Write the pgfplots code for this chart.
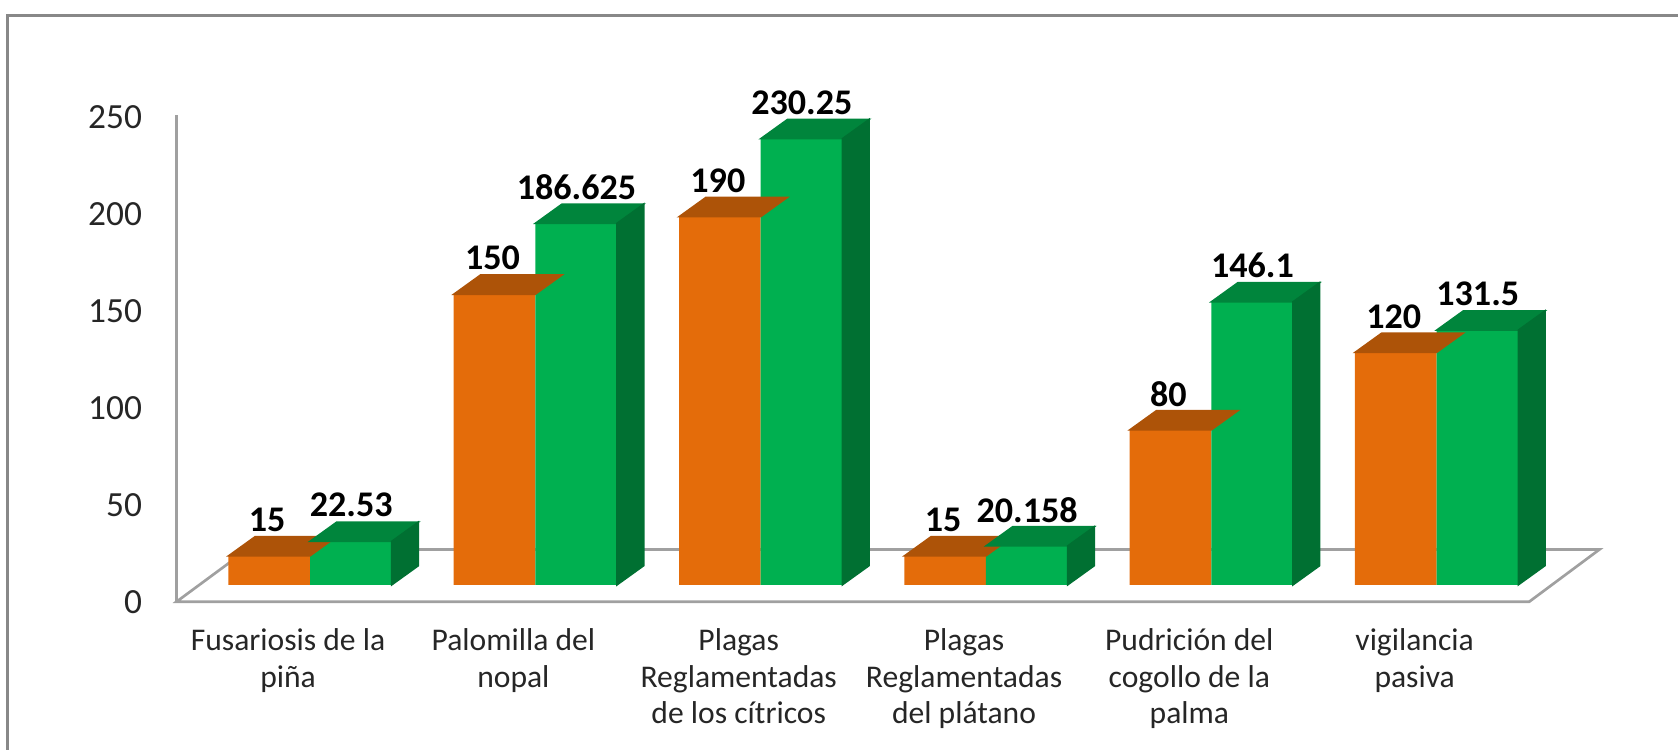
\documentclass[border=0pt]{standalone}
\usepackage{fontspec}
\setmainfont{Carlito}
\usepackage{pgfplots}
\pgfplotsset{compat=1.18}
\definecolor{orFront}{RGB}{228,108,10}
\definecolor{orTop}{RGB}{173,83,8}
\definecolor{grFront}{RGB}{0,176,80}
\definecolor{grTop}{RGB}{0,133,60}
\definecolor{grSide}{RGB}{0,112,50}
\definecolor{floorgray}{RGB}{160,160,160}
\definecolor{bordergray}{RGB}{136,136,136}
\definecolor{labgray}{RGB}{38,38,38}
\newcommand\ticksfont{\fontsize{9.4}{11}\selectfont}
\newcommand\catfont{\fontsize{8.4}{9.7}\selectfont}
\newcommand\lblfont{\fontsize{9.6}{11}\selectfont\bfseries}
\pgfdeclareplotmark{topO}{%
  \fill[orTop] (-7.63mm,0pt) -- (0pt,0pt) -- (2.5mm,1.8mm) -- (-5.13mm,1.8mm) -- cycle;}
\pgfdeclareplotmark{topG}{%
  \pgfmathsetlengthmacro\hh{\barh*0.1811mm}%
  \fill[grTop] (0pt,0pt) -- (7.63mm,0pt) -- (10.13mm,1.8mm) -- (2.5mm,1.8mm) -- cycle;
  \fill[grSide] (7.63mm,0pt) -- (10.13mm,1.8mm) -- (10.13mm,1.8mm-\hh) -- (7.63mm,-\hh) -- cycle;}
\begin{document}
\begin{tikzpicture}
\useasboundingbox (0,0) rectangle (156.8mm,70mm);
\begin{scope}[x=0.1mm,y=-0.1mm,yshift=70mm]
  \draw[bordergray, line width=0.28mm] (7,760) -- (7,14.5) -- (1600,14.5);
  \draw[floorgray, line width=0.25mm, line join=miter] (165,562.2) -- (1429,562.2) -- (1494.5,513.5) -- (231,513.5) -- cycle;
  \draw[floorgray, line width=0.25mm] (165,562.2) -- (165,107);
\end{scope}
\begin{axis}[
  at={(28.97mm,15.34mm)}, anchor=origin,
  x=21.054mm, y=0.1811mm,
  xmin=-0.592, xmax=5.40, ymin=0, ymax=250,
  axis lines=left, axis line style={draw=none}, tick style={draw=none},
  major tick length=0pt, clip=false,
  ytick={0,50,...,250},
  yticklabel style={font=\ticksfont, text=labgray, anchor=east, inner sep=0pt, xshift=-3.17mm, yshift=-1.56mm},
  xtick={0,1,2,3,4,5},
  xticklabels={{Fusariosis de la\\piña},{Palomilla del\\nopal},{Plagas\\Reglamentadas\\de los cítricos},{Plagas\\Reglamentadas\\del plátano},{Pudrición del\\cogollo de la\\palma},{vigilancia\\pasiva}},
  xticklabel style={font=\catfont, text=labgray, align=center, anchor=north, inner sep=0pt, xshift=-2.05mm, yshift=-4.02mm},
  /pgf/number format/assume math mode=true,
  /pgf/number format/precision=3,
]
\addplot[ybar, bar width=7.63mm, bar shift=-3.815mm, fill=orFront, draw=none,
  nodes near coords, every node near coord/.append style={font=\lblfont, text=black, anchor=center, xshift=-4.0mm, yshift=3.37mm}]
  coordinates {(0,15) (1,150) (2,190) (3,15) (4,80) (5,120)};
\addplot[only marks, mark=topO, visualization depends on=y \as \barh]
  coordinates {(0,15) (1,150) (2,190) (3,15) (4,80) (5,120)};
\addplot[ybar, bar width=7.63mm, bar shift=3.815mm, fill=grFront, draw=none,
  nodes near coords, every node near coord/.append style={font=\lblfont, text=black, anchor=center, xshift=3.85mm, yshift=3.37mm}]
  coordinates {(0,22.53) (1,186.625) (2,230.25) (3,20.158) (4,146.1) (5,131.5)};
\addplot[only marks, mark=topG, visualization depends on=y \as \barh]
  coordinates {(0,22.53) (1,186.625) (2,230.25) (3,20.158) (4,146.1) (5,131.5)};
\end{axis}
\end{tikzpicture}
\end{document}
